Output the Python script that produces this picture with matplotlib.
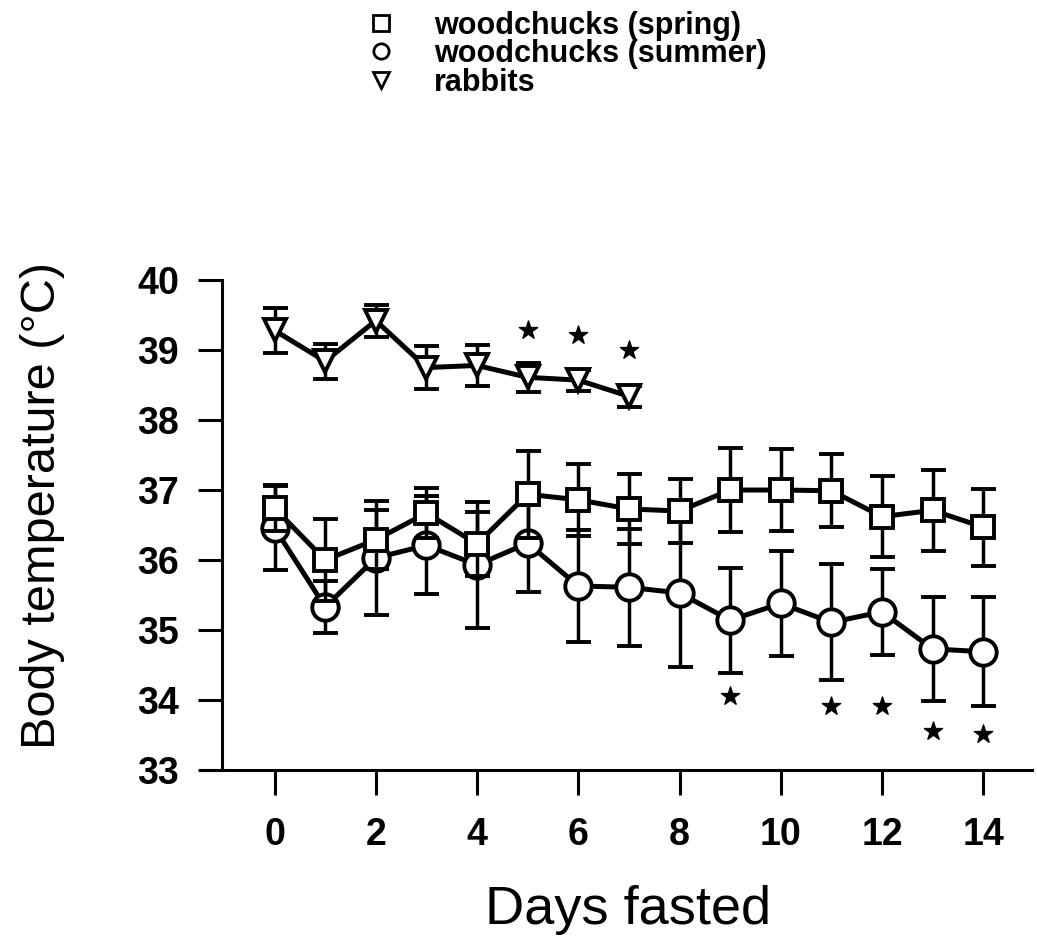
import matplotlib
matplotlib.use('Agg')
import matplotlib.pyplot as plt
from matplotlib.lines import Line2D

plt.rcParams['font.family'] = ['Liberation Sans', 'DejaVu Sans']

# data
days = list(range(15))
spring = [36.74, 36.00, 36.29, 36.67, 36.23, 36.94, 36.86, 36.73, 36.70, 37.00, 37.00, 36.99, 36.62, 36.71, 36.47]
spring_err = [0.33, 0.58, 0.42, 0.36, 0.46, 0.62, 0.51, 0.50, 0.46, 0.60, 0.58, 0.52, 0.58, 0.58, 0.55]
summer = [36.46, 35.33, 36.03, 36.21, 35.93, 36.24, 35.63, 35.61, 35.53, 35.14, 35.38, 35.11, 35.26, 34.73, 34.69]
summer_err = [0.60, 0.37, 0.82, 0.70, 0.90, 0.70, 0.80, 0.84, 1.06, 0.75, 0.75, 0.83, 0.61, 0.74, 0.78]
rabbit_days = list(range(8))
rabbits = [39.28, 38.84, 39.42, 38.75, 38.78, 38.61, 38.57, 38.34]
rabbits_err = [0.32, 0.25, 0.23, 0.31, 0.29, 0.21, 0.15, 0.15]

# significance stars
star_rabbit_days = [5, 6, 7]
star_rabbit_y = [39.29, 39.21, 39.00]
star_summer_days = [9, 11, 12, 13, 14]
star_summer_y = [34.06, 33.91, 33.91, 33.56, 33.51]

fig = plt.figure(figsize=(10.37, 9.41), dpi=100)
ax = fig.add_axes([0.193, 0.1817, 0.802, 0.5207])

common = dict(color='black', lw=3.6, elinewidth=2.5, capsize=9, capthick=3,
              markersize=16, markerfacecolor='white', markeredgecolor='black',
              markeredgewidth=2.8)
ax.errorbar(days, spring, yerr=spring_err, fmt='-s', zorder=3, **common)
ax.errorbar(days, summer, yerr=summer_err, fmt='-o', zorder=2, **dict(common, markersize=19))
ax.errorbar(rabbit_days, rabbits, yerr=rabbits_err, fmt='-v', zorder=3, **common)

ax.scatter(star_rabbit_days, star_rabbit_y, marker='*', s=190, color='black', zorder=4)
ax.scatter(star_summer_days, star_summer_y, marker='*', s=190, color='black', zorder=4)

ax.set_xlim(-1.47, 14.96)
ax.set_ylim(33, 40)
ax.set_xticks(range(0, 15, 2))
ax.set_yticks(range(33, 41))

ax.spines['top'].set_visible(False)
ax.spines['right'].set_visible(False)
ax.spines['left'].set_position(('data', -1.04))
ax.spines['left'].set_linewidth(2.2)
ax.spines['bottom'].set_linewidth(2.2)
ax.tick_params(axis='y', direction='out', length=17, width=2.2, labelsize=27, pad=14)
ax.tick_params(axis='x', direction='out', length=18, width=2.2, labelsize=27, pad=16)
for lab in ax.get_xticklabels() + ax.get_yticklabels():
    lab.set_fontweight('bold')

ax.set_xlabel('Days fasted', fontsize=39)
ax.set_ylabel('Body temperature (°C)', fontsize=35)
ax.xaxis.set_label_coords(0.515, -0.235)
ax.yaxis.set_label_coords(-0.163, 0.54)

handles = [
    Line2D([], [], ls='none', marker='s', ms=11, mfc='white', mec='black', mew=2),
    Line2D([], [], ls='none', marker='o', ms=11, mfc='white', mec='black', mew=2),
    Line2D([], [], ls='none', marker='v', ms=11, mfc='white', mec='black', mew=2),
]
labels = ['woodchucks (spring)', 'woodchucks (summer)', 'rabbits']
fig.legend(handles, labels, loc='upper left', bbox_to_anchor=(0.323, 1.018),
           frameon=False, prop={'size': 22, 'weight': 'bold'},
           handletextpad=1.15, labelspacing=-0.05, handlelength=1.2)

fig.savefig('out.png', dpi=100)
